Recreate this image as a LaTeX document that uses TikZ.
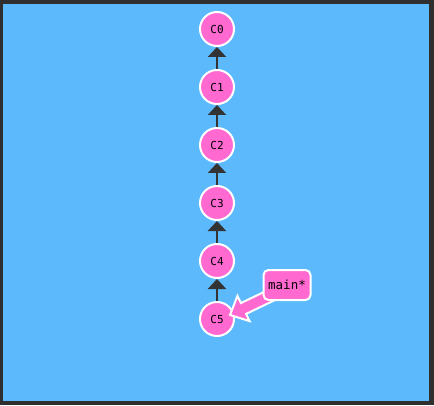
\documentclass[tikz,border=0pt]{standalone}
\usepackage{fontspec}
\setmonofont{DejaVu Sans Mono}
\usetikzlibrary{arrows.meta,positioning,calc}
\definecolor{frameGray}{RGB}{47,47,47}
\definecolor{skyBlue}{RGB}{92,186,252}
\definecolor{commitPink}{RGB}{255,105,208}
\definecolor{linkDark}{RGB}{51,51,51}
\tikzset{
  commit/.style={circle,draw=white,fill=commitPink,line width=2pt,minimum size=34pt,inner sep=0pt,font=\ttfamily\fontsize{11}{13}\selectfont},
  parentlink/.style={draw=linkDark,line width=2.5pt,-{Triangle[width=18pt,length=10pt]}},
  branchtag/.style={rounded corners=5pt,draw=white,fill=commitPink,line width=2pt,minimum width=47pt,minimum height=30pt,inner sep=3pt,font=\ttfamily\fontsize{12.5}{14}\selectfont},
  fatarrow/.style={draw=white,fill=commitPink,line width=2pt,line join=miter}
}

\begin{document}
\begin{tikzpicture}[x=1pt,y=1pt]
\fill[frameGray] (0,0) rectangle (434,405);
\fill[skyBlue] (3,4) rectangle (429,401);
\node[commit] (c0) at (217,376) {C0};
\foreach \i [count=\j from 0] in {1,...,5}
  \node[commit,below=22pt of c\j] (c\i) {C\i};
\foreach \i [count=\j from 0] in {1,...,5}
  \draw[parentlink] (c\i) -- (c\j);
% branch pointer
\coordinate (tip) at ($(c5.center)+(13,4)$);
\begin{scope}[shift={(tip)},rotate=205.7]
\draw[fatarrow] (-48,6) -- (-15,6) -- (-15,14) -- (0,0) -- (-15,-14) -- (-15,-6) -- (-48,-6);
\end{scope}
\node[branchtag] (main) at (287,120) {main*};
\end{tikzpicture}
\end{document}
